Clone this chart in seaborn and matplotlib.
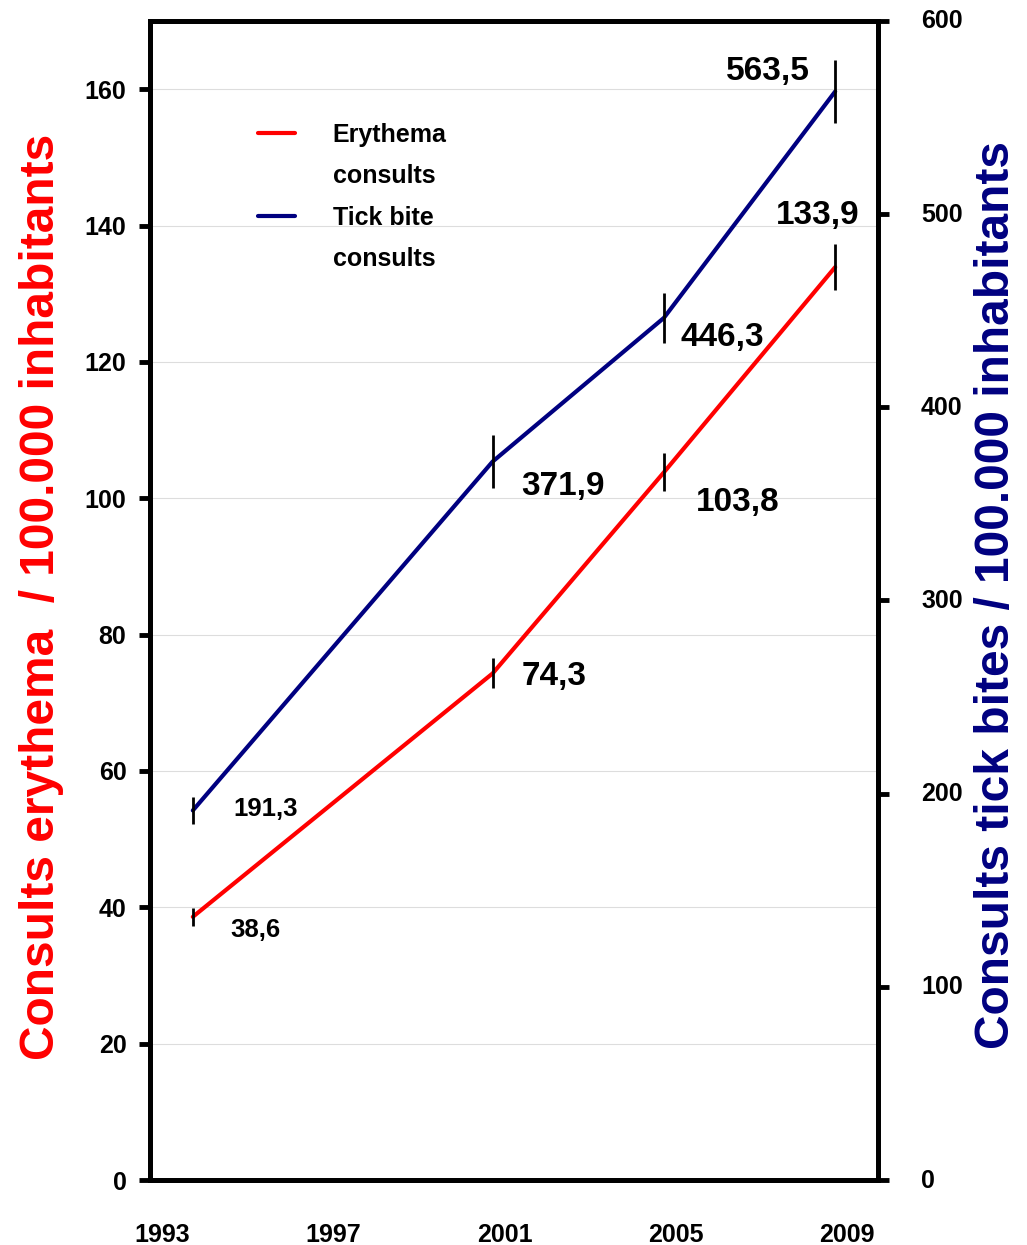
import matplotlib
matplotlib.use('Agg')
import matplotlib.pyplot as plt
import matplotlib.transforms as mtransforms
from matplotlib.lines import Line2D
import pandas as pd
import seaborn as sns

# data
years = [1994, 2001, 2005, 2009]
erythema = [38.6, 74.3, 103.8, 133.9]
erythema_err = [1.3, 2.2, 2.8, 3.4]
tick_bites = [191.3, 371.9, 446.3, 563.5]
tick_bites_err = [7.0, 13.7, 13.0, 16.5]
erythema_labels = ['38,6', '74,3', '103,8', '133,9']
tick_bite_labels = ['191,3', '371,9', '446,3', '563,5']
year_ticks = [1993, 1997, 2001, 2005, 2009]
left_ticks = [0, 20, 40, 60, 80, 100, 120, 140, 160]
right_ticks = [0, 100, 200, 300, 400, 500, 600]

RED = '#ff0000'
NAVY = '#000080'

# label offsets (pixels) and sizes
ery_off = [(63, -13), (62, -3), (74, -30), (-17, 52)]
tick_off = [(73, 1), (70, -25), (58, -20), (-67, 20)]
lab_size = [18.5, 24, 24, 24]

sns.set_style('white')
plt.rcParams['font.family'] = ['Liberation Sans', 'DejaVu Sans']
plt.rcParams['font.weight'] = 'bold'
plt.rcParams['text.color'] = 'black'
plt.rcParams['xtick.color'] = 'black'
plt.rcParams['ytick.color'] = 'black'

df = pd.DataFrame({'year': years, 'erythema': erythema, 'tick': tick_bites})

fig = plt.figure(figsize=(10.27, 12.45), dpi=100)
ax = fig.add_axes([150 / 1027, 65 / 1245, 728 / 1027, 1159 / 1245])
ax2 = ax.twinx()

ax.yaxis.grid(True, color='#dddddd', lw=0.8)
ax.set_axisbelow(True)

sns.lineplot(data=df, x='year', y='erythema', ax=ax, color=RED, lw=3)
ax.errorbar(years, erythema, yerr=erythema_err, fmt='none', ecolor='black', elinewidth=2, capsize=0)
sns.lineplot(data=df, x='year', y='tick', ax=ax2, color=NAVY, lw=3)
ax2.errorbar(years, tick_bites, yerr=tick_bites_err, fmt='none', ecolor='black', elinewidth=2, capsize=0)

for i in range(len(years)):
    ax.annotate(erythema_labels[i], (years[i], erythema[i]), xytext=ery_off[i],
                textcoords='offset pixels', ha='center', va='center',
                fontsize=lab_size[i], fontweight='bold', color='black')
    ax2.annotate(tick_bite_labels[i], (years[i], tick_bites[i]), xytext=tick_off[i],
                 textcoords='offset pixels', ha='center', va='center',
                 fontsize=lab_size[i], fontweight='bold', color='black')

ax.set_xlim(1993, 2010)
ax.set_ylim(0, 170)
ax2.set_ylim(0, 600)
ax.set_xticks(year_ticks)
ax.set_yticks(left_ticks)
ax2.set_yticks(right_ticks)

for a in (ax, ax2):
    for s in a.spines.values():
        s.set_linewidth(3.5)
        s.set_color('black')

ax.tick_params(axis='y', direction='out', length=8, width=3.5, pad=9, labelsize=18, labelcolor='black')
ax.tick_params(axis='x', direction='out', length=9, width=3.5, pad=22, labelsize=18, labelcolor='black')
ax2.tick_params(axis='y', direction='out', length=8, width=3.5, pad=23, labelsize=18, labelcolor='black')
for lab in ax.get_xticklabels():
    lab.set_transform(lab.get_transform() + mtransforms.ScaledTranslation(0.12, 0, fig.dpi_scale_trans))
for lab in ax2.get_yticklabels():
    lab.set_transform(lab.get_transform() + mtransforms.ScaledTranslation(0, 0.02, fig.dpi_scale_trans))

ax.set_xlabel('')
ax.set_ylabel('Consults erythema  / 100.000 inhabitants', color=RED, fontsize=34.5, fontweight='bold',
              va='center')
ax.yaxis.set_label_coords(-0.149, 0.503)
ax2.set_ylabel('Consults tick bites / 100.000 inhabitants', color=NAVY, fontsize=34.5, fontweight='bold',
               rotation=90, va='center')
ax2.yaxis.set_label_coords(1.163, 0.505)

handles = [Line2D([], [], color=RED, lw=3), Line2D([], [], color='none'),
           Line2D([], [], color=NAVY, lw=3), Line2D([], [], color='none')]
leg = ax.legend(handles, ['Erythema', 'consults', 'Tick bite', 'consults'], loc='upper left',
                bbox_to_anchor=(0.148, 0.912), frameon=False, borderpad=0, borderaxespad=0,
                handlelength=1.5, handletextpad=1.5, labelspacing=0.7,
                prop={'size': 18, 'weight': 'bold'})
for t in leg.get_texts():
    t.set_color('black')

fig.savefig('out.png', dpi=100)
